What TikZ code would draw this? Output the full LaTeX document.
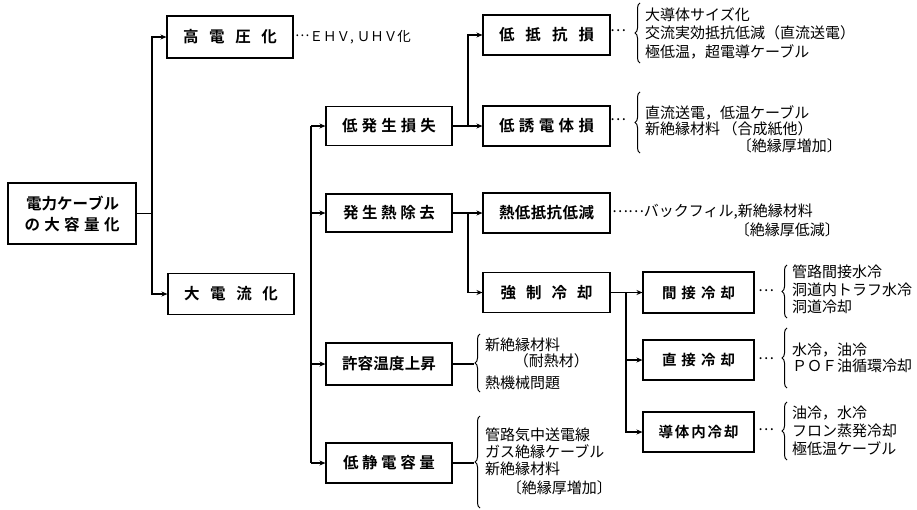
\documentclass[tikz,border=0pt]{standalone}
\usepackage{fontspec}
\setmainfont{Noto Sans CJK JP}
\newfontfamily\jpb{Noto Sans CJK JP Bold}
\usetikzlibrary{arrows.meta,decorations.pathreplacing}
\newcommand\jst[2]{\makebox[#1][s]{#2}}
\newcommand\mdots{\raisebox{4.5pt}{…}}
\begin{document}
\begin{tikzpicture}[x=1pt,y=-1pt,
  box/.style={draw, line width=1.1pt, inner sep=0pt, minimum width=126pt, minimum height=40pt, font=\jpb\fontsize{15.5}{18}\selectfont},
  sbox/.style={box, minimum width=111pt, font=\jpb\fontsize{14.5}{17}\selectfont},
  arr/.style={line width=1.1pt, -{Stealth[length=6pt,width=5pt]}},
  con/.style={line width=1.1pt},
  ann/.style={inner sep=0pt, font=\fontsize{15}{17}\selectfont},
  brc/.style={decorate, decoration={brace, amplitude=5pt}, line width=1pt}]
\useasboundingbox (0,0) rectangle (917,509);

% boxes
\node[box, minimum width=128pt, minimum height=61pt, align=center] (root) at (72,213.5)
  {\jst{92pt}{電\hfil 力\hfil ケ\hfil ー\hfil ブ\hfil ル}\\[3pt]\jst{95pt}{の\hfil 大\hfil 容\hfil 量\hfil 化}};
\node[box, minimum height=42pt] (hv) at (230,37) {\jst{94pt}{高\hfil 電\hfil 圧\hfil 化}};
\node[box, minimum height=41pt] (hc) at (231,294) {\jst{94pt}{大\hfil 電\hfil 流\hfil 化}};
\node[box, minimum height=39pt] (lg) at (389,126) {\jst{94pt}{低\hfil 発\hfil 生\hfil 損\hfil 失}};
\node[box, minimum height=38pt] (hr) at (389,213) {\jst{92pt}{発\hfil 生\hfil 熱\hfil 除\hfil 去}};
\node[box, minimum height=42pt] (ta) at (389,364) {\jst{94pt}{許\hfil 容\hfil 温\hfil 度\hfil 上\hfil 昇}};
\node[box, minimum height=40pt] (lc) at (389,463) {\jst{92pt}{低\hfil 静\hfil 電\hfil 容\hfil 量}};
\node[box, minimum width=127pt] (lr) at (546.5,35) {\jst{95pt}{低\hfil 抵\hfil 抗\hfil 損}};
\node[box, minimum width=127pt] (ld) at (546.5,126) {\jst{95pt}{低\hfil 誘\hfil 電\hfil 体\hfil 損}};
\node[box, minimum width=127pt] (tr) at (546.5,213) {\jst{95pt}{熱\hfil 低\hfil 抵\hfil 抗\hfil 低\hfil 減}};
\node[box, minimum width=127pt] (fc) at (546.5,292.5) {\jst{92pt}{強\hfil 制\hfil 冷\hfil 却}};
\node[sbox, minimum height=41pt] (ic) at (698.5,292.5) {\jst{73pt}{間\hfil 接\hfil 冷\hfil 却}};
\node[sbox] (dc) at (698.5,360) {\jst{73pt}{直\hfil 接\hfil 冷\hfil 却}};
\node[sbox] (cc) at (698.5,432) {\jst{80pt}{導\hfil 体\hfil 内\hfil 冷\hfil 却}};

% junctions
\coordinate (j1) at (152,213.5);
\coordinate (j2) at (311,0);
\coordinate (j3) at (468,126);
\coordinate (j4) at (468,213);
\coordinate (j5) at (626,292.5);

\draw[con] (root.east) -- (j1);
\draw[arr] (j1) |- (hv.west);
\draw[arr] (j1) |- (hc.west);

\draw[con] (lg.west -| j2) -- (lc.west -| j2);
\foreach \n in {lg,hr,ta,lc} \draw[arr] (\n.west -| j2) -- (\n.west);

\draw[arr] (lg.east) -- (ld.west);
\draw[arr] (j3) |- (lr.west);
\draw[arr] (hr.east) -- (tr.west);
\draw[arr] (j4) |- (fc.west);
\draw[arr] (fc.east) -- (ic.west);
\draw[arr] (j5) |- (dc.west);
\draw[arr] (j5) |- (cc.west);

% annotations
\node[ann, anchor=west, font=\fontsize{13.5}{16}\selectfont] (ehv) at (295,37) {\mdots ＥＨＶ, ＵＨＶ化};

\node[ann] (d1) at (618,33) {\mdots};
\draw[brc] (640,63) -- (640,3);
\node[ann, anchor=west] (t11) at (645,15) {大導体サイズ化};
\node[ann, anchor=west] (t12) at (645,33) {交流実効抵抗低減（直流送電）};
\node[ann, anchor=west] (t13) at (645,52) {極低温，超電導ケーブル};

\node[ann] (d2) at (618,122) {\mdots};
\draw[brc] (640,153) -- (640,92);
\node[ann, anchor=west] (t21) at (645,113) {直流送電，低温ケーブル};
\node[ann, anchor=west] (t22) at (645,129) {新絶縁材料\,（合成紙他）};
\node[ann, anchor=east] (t23) at (842,146) {〔絶縁厚増加〕};

\node[ann, anchor=west] (t31) at (612,212) {\mdots\mdots バックフィル,新絶縁材料};
\node[ann, anchor=east] (t32) at (840,230) {〔絶縁厚低減〕};

\coordinate (b4) at (474,364);
\draw[con] (ta.east) -- (ta.east -| b4);
\draw[brc] (480,392) -- (480,334);
\node[ann, anchor=west] (t41) at (485,345) {新絶縁材料};
\node[ann, anchor=east] (t42) at (589,361) {（耐熱材）};
\node[ann, anchor=west] (t43) at (485,383) {熱機械問題};

\coordinate (b5) at (474,463);
\draw[con] (lc.east) -- (lc.east -| b5);
\draw[brc] (480,508) -- (480,416);
\node[ann, anchor=west] (t51) at (485,435) {管路気中送電線};
\node[ann, anchor=west] (t52) at (485,452) {ガス絶縁ケーブル};
\node[ann, anchor=west] (t53) at (485,469) {新絶縁材料};
\node[ann, anchor=east] (t54) at (612,488) {〔絶縁厚増加〕};

\node[ann] (d6) at (766,293) {\mdots};
\draw[brc] (787,318) -- (787,265);
\node[ann, anchor=west] (t61) at (792,272) {管路間接水冷};
\node[ann, anchor=west] (t62) at (792,290) {洞道内トラフ水冷};
\node[ann, anchor=west] (t63) at (792,307) {洞道冷却};

\node[ann] (d7) at (766,361) {\mdots};
\draw[brc] (787,388) -- (787,328);
\node[ann, anchor=west] (t71) at (792,350) {水冷，油冷};
\node[ann, anchor=west] (t72) at (792,366) {ＰＯＦ油循環冷却};

\node[ann] (d8) at (766,432) {\mdots};
\draw[brc] (787,460) -- (787,402);
\node[ann, anchor=west] (t81) at (792,413) {油冷，水冷};
\node[ann, anchor=west] (t82) at (792,431) {フロン蒸発冷却};
\node[ann, anchor=west] (t83) at (792,449) {極低温ケーブル};
\end{tikzpicture}
\end{document}
